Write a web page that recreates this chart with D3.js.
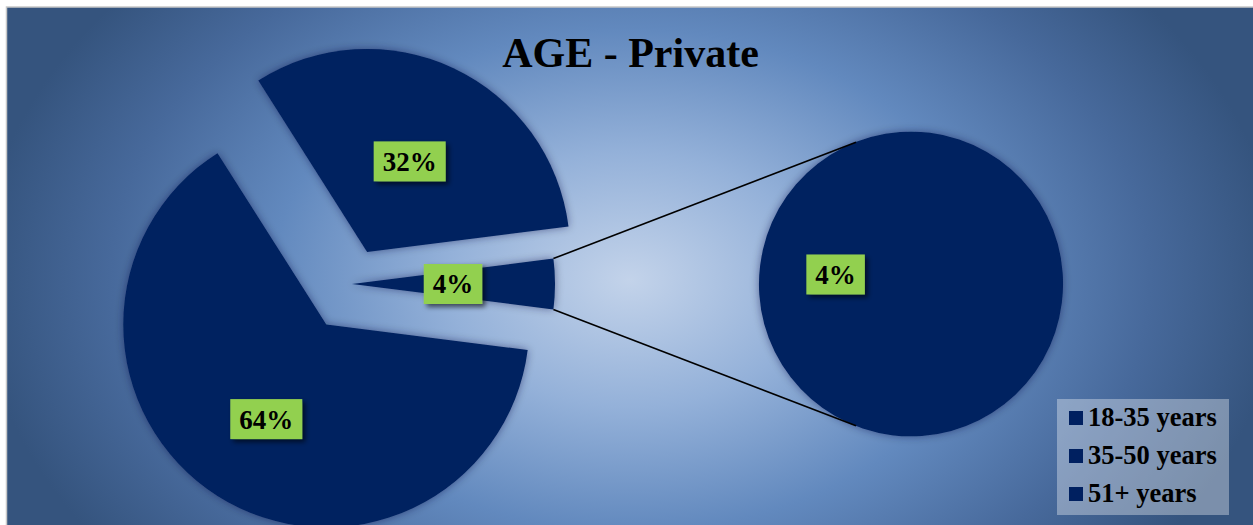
<!DOCTYPE html>
<html>
<head>
<meta charset="utf-8">
<script src="https://cdn.jsdelivr.net/npm/d3@7"></script>
<style>
  html, body { margin: 0; padding: 0; background: #ffffff; overflow: hidden; }
  svg { display: block; }
  text { font-family: "Liberation Serif", "Times New Roman", serif; font-weight: bold; }
</style>
</head>
<body>
<svg id="chart" width="1253" height="525"></svg>
<script>
// ---------- data ----------
const title = "AGE - Private";
const categories = ["18-35 years", "35-50 years", "51+ years"];
const values = [32, 64, 4];          // percent
const valueLabels = ["32%", "64%", "4%"];
const secondaryIndex = 2;            // slice split into the second pie

// ---------- layout ----------
const W = 1253, H = 525;
const sliceColor = "#002060";
const mainC = { x: 352, y: 284 }, mainR = 203;
const secC = { x: 911, y: 284 }, secR = 152;
const explode = { 0: 35.5, 1: 48, 2: 0 };
const labelDist = { 0: 100, 1: 112, 2: 101 };

const svg = d3.select("#chart");
const defs = svg.append("defs");

const grad = defs.append("radialGradient").attr("id", "bg")
  .attr("gradientUnits", "userSpaceOnUse")
  .attr("cx", 630).attr("cy", 280).attr("r", 650)
  .attr("gradientTransform", "translate(630,280) scale(1,0.7) translate(-630,-280)");
[["0%", "#c3d3ea"], ["28%", "#94b1d9"], ["55%", "#6289be"], ["80%", "#47699b"], ["100%", "#35547e"]]
  .forEach(([o, c]) => grad.append("stop").attr("offset", o).attr("stop-color", c));

const glow = defs.append("filter").attr("id", "glow")
  .attr("x", "-20%").attr("y", "-20%").attr("width", "140%").attr("height", "140%");
glow.append("feDropShadow").attr("dx", 0).attr("dy", 0).attr("stdDeviation", 4)
  .attr("flood-color", "#0a1a3a").attr("flood-opacity", 0.45);

const boxShadow = defs.append("filter").attr("id", "boxShadow")
  .attr("x", "-30%").attr("y", "-30%").attr("width", "170%").attr("height", "170%");
boxShadow.append("feDropShadow").attr("dx", 3).attr("dy", 3).attr("stdDeviation", 2.5)
  .attr("flood-color", "#000").attr("flood-opacity", 0.6);

// background
svg.append("rect").attr("x", 6.5).attr("y", 7).attr("width", W).attr("height", H)
  .attr("fill", "url(#bg)").attr("stroke", "#c8c8c8").attr("stroke-width", 1.5);

// ---------- main pie ----------
const order = [2, 1, 0]; // clockwise starting from the split slice (centred at 3 o'clock)
const total = d3.sum(values);
const splitHalf = Math.PI * values[secondaryIndex] / total;
const pie = d3.pie().sort(null).value(i => values[i])
  .startAngle(Math.PI / 2 - splitHalf).endAngle(Math.PI / 2 - splitHalf + 2 * Math.PI);
const arcs = pie(order);
const arc = d3.arc().innerRadius(0).outerRadius(mainR);

const mainG = svg.append("g").attr("transform", `translate(${mainC.x},${mainC.y})`);
const sliceG = mainG.selectAll("g.slice").data(arcs).join("g").attr("class", "slice")
  .attr("transform", d => {
    const m = (d.startAngle + d.endAngle) / 2;
    const e = explode[d.data];
    return `translate(${Math.sin(m) * e},${-Math.cos(m) * e})`;
  });
sliceG.append("path").attr("d", arc).attr("fill", sliceColor).attr("filter", "url(#glow)");

// ---------- second pie ----------
const splitArc = arcs.find(a => a.data === secondaryIndex);
const secPie = d3.pie().sort(null).value(i => values[i])
  .startAngle(splitArc.endAngle).endAngle(splitArc.endAngle + 2 * Math.PI);
const secArcs = secPie([secondaryIndex]);
const secArc = d3.arc().innerRadius(0).outerRadius(secR);
const secG = svg.append("g").attr("transform", `translate(${secC.x},${secC.y})`);
secG.selectAll("path").data(secArcs).join("path")
  .attr("d", secArc).attr("fill", sliceColor).attr("filter", "url(#glow)");

// connector lines
const p = (c, r, a) => [c.x + r * Math.sin(a), c.y - r * Math.cos(a)];
const mainTop = p(mainC, mainR, splitArc.startAngle);
const mainBot = p(mainC, mainR, splitArc.endAngle);
const sa1 = -111.2 * Math.PI / 180, sa2 = 111.2 * Math.PI / 180;
const s1 = [secC.x + secR * Math.cos(sa1), secC.y + secR * Math.sin(sa1)];
const s2 = [secC.x + secR * Math.cos(sa2), secC.y + secR * Math.sin(sa2)];
svg.append("line").attr("x1", mainTop[0]).attr("y1", mainTop[1]).attr("x2", s1[0]).attr("y2", s1[1])
  .attr("stroke", "#000").attr("stroke-width", 1.6);
svg.append("line").attr("x1", mainBot[0]).attr("y1", mainBot[1]).attr("x2", s2[0]).attr("y2", s2[1])
  .attr("stroke", "#000").attr("stroke-width", 1.6);

// ---------- labels ----------
function drawLabel(x, y, txt) {
  const g = svg.append("g").attr("transform", `translate(${x},${y})`);
  const rect = g.append("rect").attr("fill", "#92d050").attr("filter", "url(#boxShadow)");
  const t = g.append("text").attr("text-anchor", "middle").attr("dy", "0.35em")
    .attr("font-size", 27).attr("fill", "#000").text(txt);
  const w = t.node().getComputedTextLength() + 18, h = 40;
  rect.attr("x", -w / 2).attr("y", -h / 2).attr("width", w).attr("height", h);
}
arcs.forEach(d => {
  const m = (d.startAngle + d.endAngle) / 2;
  const e = explode[d.data] + labelDist[d.data];
  drawLabel(mainC.x + Math.sin(m) * e, mainC.y - Math.cos(m) * e, valueLabels[d.data]);
});
secArcs.forEach(d => {
  const c = d3.arc().innerRadius(0).outerRadius(secR).centroid(d);
  drawLabel(secC.x + c[0], secC.y + c[1], valueLabels[d.data]);
});

// ---------- title ----------
svg.append("text").attr("x", 630.5).attr("y", 66.5).attr("text-anchor", "middle")
  .attr("font-size", 42).attr("fill", "#000").text(title);

// ---------- legend ----------
const lg = svg.append("g").attr("transform", "translate(1057,399)");
lg.append("rect").attr("width", 172).attr("height", 116).attr("fill", "#ffffff").attr("fill-opacity", 0.35);
const rows = lg.selectAll("g.row").data(categories).join("g").attr("class", "row")
  .attr("transform", (d, i) => `translate(12,${27 + i * 38})`);
rows.append("rect").attr("x", 0).attr("y", -15).attr("width", 14).attr("height", 14).attr("fill", sliceColor);
rows.append("text").attr("x", 19).attr("y", 0).attr("font-size", 26.5).attr("fill", "#000").text(d => d);
</script>
</body>
</html>
